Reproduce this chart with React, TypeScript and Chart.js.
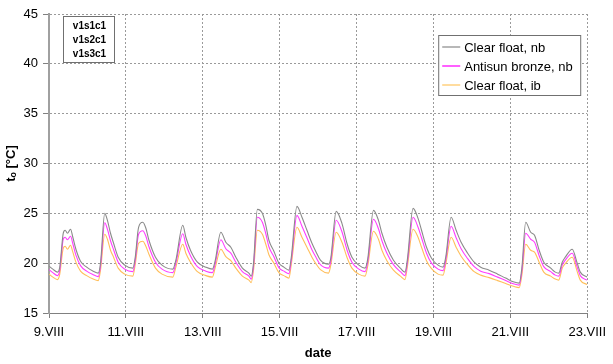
import React, { useEffect, useRef } from "react";
import { Chart, registerables } from "chart.js";

Chart.register(...registerables);

// time in days of August (9.VIII .. 23.VIII)
const times = [
  9.0, 9.1, 9.22, 9.28, 9.37, 9.42, 9.48, 9.56, 9.62, 9.7, 9.82, 9.98,
  10.15, 10.28, 10.34, 10.45, 10.52, 10.6, 10.68, 10.8, 10.97,
  11.18, 11.24, 11.33, 11.44, 11.52, 11.6, 11.77, 11.94,
  12.22, 12.3, 12.48, 12.56, 12.68, 12.86,
  13.08, 13.25, 13.32, 13.47, 13.6, 13.73, 13.86,
  14.03, 14.2, 14.26, 14.32, 14.42, 14.55, 14.64, 14.72, 14.85, 14.98,
  15.11, 15.24, 15.3, 15.45, 15.58, 15.71, 15.84, 15.95,
  16.06, 16.27, 16.33, 16.47, 16.62, 16.75, 16.88,
  17.06, 17.22, 17.29, 17.44, 17.57, 17.66, 17.79, 17.96,
  18.14, 18.26, 18.32, 18.47, 18.6, 18.69, 18.82, 18.95,
  19.12, 19.25, 19.32, 19.46, 19.59, 19.72, 19.89,
  20.06, 20.23, 20.45, 20.67, 20.88,
  21.1, 21.23, 21.3, 21.4, 21.53, 21.63, 21.75, 21.87,
  22.05, 22.17, 22.26, 22.35, 22.43, 22.61, 22.74, 22.82, 23.0,
];

const clearFloatNb = [
  19.7, 19.4, 19.1, 19.6, 23.0, 23.3, 23.0, 23.4, 22.6, 21.4, 20.2, 19.6,
  19.2, 19.0, 20.0, 25.0, 24.3, 23.0, 22.0, 20.6, 19.8,
  19.5, 20.5, 23.6, 24.1, 23.5, 22.3, 20.6, 19.8,
  19.4, 20.3, 23.8, 22.6, 21.3, 20.1,
  19.6, 19.4, 20.2, 23.1, 22.1, 21.6, 20.6,
  19.5, 19.0, 18.7, 20.0, 25.4, 25.0, 23.8, 22.3, 21.2, 20.0,
  19.6, 19.3, 20.5, 25.7, 24.6, 23.3, 22.0, 21.1,
  20.3, 19.9, 20.5, 25.2, 24.0, 22.0, 20.6,
  19.8, 19.5, 20.4, 25.3, 24.3, 23.0, 21.6, 20.3,
  19.5, 19.1, 20.3, 25.5, 24.5, 23.3, 21.6, 20.5,
  19.8, 19.6, 20.6, 24.6, 23.3, 22.1, 21.0,
  20.1, 19.6, 19.3, 18.9, 18.5,
  18.1, 18.0, 19.5, 24.1, 23.1, 22.8, 21.3, 20.1,
  19.5, 19.1, 19.0, 20.1, 20.6, 21.4, 20.0, 19.1, 18.6,
];

const antisunBronzeNb = [
  19.35, 19.05, 18.75, 19.3, 22.4, 22.6, 22.35, 22.7, 21.95, 20.8, 19.75, 19.2,
  18.85, 18.65, 19.7, 24.05, 23.4, 22.25, 21.35, 20.1, 19.4,
  19.15, 20.2, 22.9, 23.25, 22.7, 21.65, 20.1, 19.4,
  19.05, 20.0, 22.95, 21.9, 20.75, 19.65,
  19.2, 19.05, 19.9, 22.35, 21.45, 21.0, 20.1,
  19.15, 18.7, 18.4, 19.7, 24.6, 24.1, 22.95, 21.65, 20.65, 19.55,
  19.2, 18.95, 20.2, 24.8, 23.7, 22.55, 21.35, 20.55,
  19.85, 19.5, 20.2, 24.3, 23.15, 21.35, 20.1,
  19.4, 19.15, 20.1, 24.4, 23.45, 22.25, 21.0, 19.85,
  19.15, 18.75, 20.0, 24.6, 23.6, 22.55, 21.0, 20.0,
  19.4, 19.25, 20.3, 23.7, 22.55, 21.45, 20.45,
  19.65, 19.2, 18.95, 18.6, 18.25,
  17.9, 17.8, 19.2, 23.0, 22.4, 22.1, 20.75, 19.65,
  19.15, 18.8, 18.7, 19.8, 20.3, 21.0, 19.6, 18.75, 18.3,
];

const clearFloatIb = [
  18.9, 18.6, 18.35, 18.9, 21.5, 21.7, 21.4, 21.8, 21.1, 20.1, 19.2, 18.75,
  18.4, 18.25, 19.3, 22.9, 22.4, 21.3, 20.6, 19.5, 18.9,
  18.7, 19.8, 22.0, 22.2, 21.7, 20.9, 19.5, 18.9,
  18.6, 19.6, 21.9, 21.0, 20.1, 19.15,
  18.75, 18.6, 19.5, 21.4, 20.65, 20.25, 19.5,
  18.7, 18.3, 18.05, 19.3, 23.3, 22.9, 21.9, 20.85, 20.0, 19.05,
  18.75, 18.5, 19.8, 23.6, 22.6, 21.6, 20.6, 19.9,
  19.35, 19.0, 19.8, 23.1, 22.1, 20.6, 19.5,
  18.9, 18.7, 19.7, 23.2, 22.4, 21.3, 20.25, 19.3,
  18.7, 18.35, 19.6, 23.4, 22.6, 21.6, 20.25, 19.45,
  18.9, 18.8, 19.9, 22.6, 21.6, 20.7, 19.85,
  19.15, 18.8, 18.55, 18.25, 17.95,
  17.65, 17.55, 18.8, 21.9, 21.3, 21.1, 20.1, 19.1,
  18.7, 18.4, 18.3, 19.5, 19.95, 20.6, 19.15, 18.3, 17.85,
];

const seriesLabels = ["Clear float, nb", "Antisun bronze, nb", "Clear float, ib"];
const seriesColors = ["#8a8a8a", "#ff3cff", "#ffbe5a"];
const legendColors = ["#b8b8b8", "#ff60ff", "#ffdc9e"];
const xTickValues = [9, 11, 13, 15, 17, 19, 21, 23];
const xTickLabels = ["9.VIII", "11.VIII", "13.VIII", "15.VIII", "17.VIII", "19.VIII", "21.VIII", "23.VIII"];
const caseLabels = ["v1s1c1", "v1s2c1", "v1s3c1"];

const FONT = "'Liberation Sans', Arial, sans-serif";

export default function App() {
  const ref = useRef<HTMLCanvasElement | null>(null);

  useEffect(() => {
    if (!ref.current) return;
    const series = [clearFloatNb, antisunBronzeNb, clearFloatIb];
    const overlay = {
      id: "overlay",
      afterDraw(chart: any) {
        const ctx = chart.ctx as CanvasRenderingContext2D;
        const area = chart.chartArea;
        ctx.save();
        // case label box
        const bx = area.left + 14, by = area.top + 2, bw = 51, bh = 46;
        ctx.fillStyle = "#fff";
        ctx.fillRect(bx, by, bw, bh);
        ctx.strokeStyle = "#707070";
        ctx.lineWidth = 1;
        ctx.strokeRect(bx + 0.5, by + 0.5, bw, bh);
        ctx.fillStyle = "#000";
        ctx.font = `bold 10px ${FONT}`;
        ctx.textAlign = "center";
        ctx.textBaseline = "middle";
        caseLabels.forEach((t, i) => ctx.fillText(t, bx + bw / 2 + 1, by + 10 + i * 14));
        // legend
        const lx = area.right - 149, ly = area.top + 21, lw = 142, lh = 60;
        ctx.fillStyle = "#fff";
        ctx.fillRect(lx, ly, lw, lh);
        ctx.strokeStyle = "#707070";
        ctx.strokeRect(lx + 0.5, ly + 0.5, lw, lh);
        ctx.font = `13px ${FONT}`;
        ctx.textAlign = "left";
        seriesLabels.forEach((t, i) => {
          const yy = ly + 12 + i * 19;
          ctx.strokeStyle = legendColors[i];
          ctx.lineWidth = 2;
          ctx.beginPath();
          ctx.moveTo(lx + 4, yy);
          ctx.lineTo(lx + 22, yy);
          ctx.stroke();
          ctx.fillStyle = "#000";
          ctx.fillText(t, lx + 26, yy + 1);
        });
        ctx.restore();
      },
    };

    const chart = new Chart(ref.current, {
      type: "line",
      data: {
        datasets: series.map((arr, i) => ({
          label: seriesLabels[i],
          data: times.map((t, j) => ({ x: t, y: arr[j] })),
          borderColor: seriesColors[i],
          backgroundColor: seriesColors[i],
          borderWidth: 1.1,
          pointRadius: 0,
          fill: false,
          cubicInterpolationMode: "monotone" as const,
        })),
      },
      options: {
        responsive: false,
        animation: false,
        layout: { padding: { top: 14, right: 23, left: 0, bottom: 0 } },
        plugins: { legend: { display: false }, tooltip: { enabled: false } },
        scales: {
          x: {
            type: "linear",
            min: 9,
            max: 23,
            afterBuildTicks: (scale: any) => {
              scale.ticks = xTickValues.map((v) => ({ value: v }));
            },
            afterFit: (scale: any) => {
              scale.height = 51;
            },
            ticks: {
              callback: (v: any) => {
                const k = xTickValues.indexOf(Number(v));
                return k >= 0 ? xTickLabels[k] : "";
              },
              font: { family: FONT, size: 13 },
              color: "#000",
              padding: 7,
              maxRotation: 0,
              autoSkip: false,
            },
            grid: {
              color: "#9a9a9a",
              lineWidth: 1,
              tickLength: 5,
              tickColor: "#808080",
            },
            border: { color: "#808080", width: 1, dash: [2, 2] },
            title: {
              display: true,
              text: "date",
              font: { family: FONT, size: 13, weight: "bold" },
              color: "#000",
              padding: { top: 0, bottom: 3 },
            },
          },
          y: {
            min: 15,
            max: 45,
            afterFit: (scale: any) => {
              scale.width = 49;
            },
            ticks: {
              stepSize: 5,
              font: { family: FONT, size: 13 },
              color: "#000",
              padding: 5,
            },
            grid: {
              color: "#9a9a9a",
              lineWidth: 1,
              tickLength: 6,
              tickColor: "#808080",
            },
            border: { color: "#a0a0a0", width: 2, dash: [2, 2] },
            title: {
              display: true,
              text: "tₒ [°C]",
              font: { family: FONT, size: 13, weight: "bold" },
              color: "#000",
              padding: { top: 4, bottom: 0 },
            },
          },
        },
      },
      plugins: [overlay],
    } as any);
    return () => chart.destroy();
  }, []);

  return (
    <div style={{ position: "absolute", left: 0, top: 0, width: 613, height: 364, background: "#fff" }}>
      <canvas ref={ref} width={613} height={364} style={{ display: "block" }} />
    </div>
  );
}
